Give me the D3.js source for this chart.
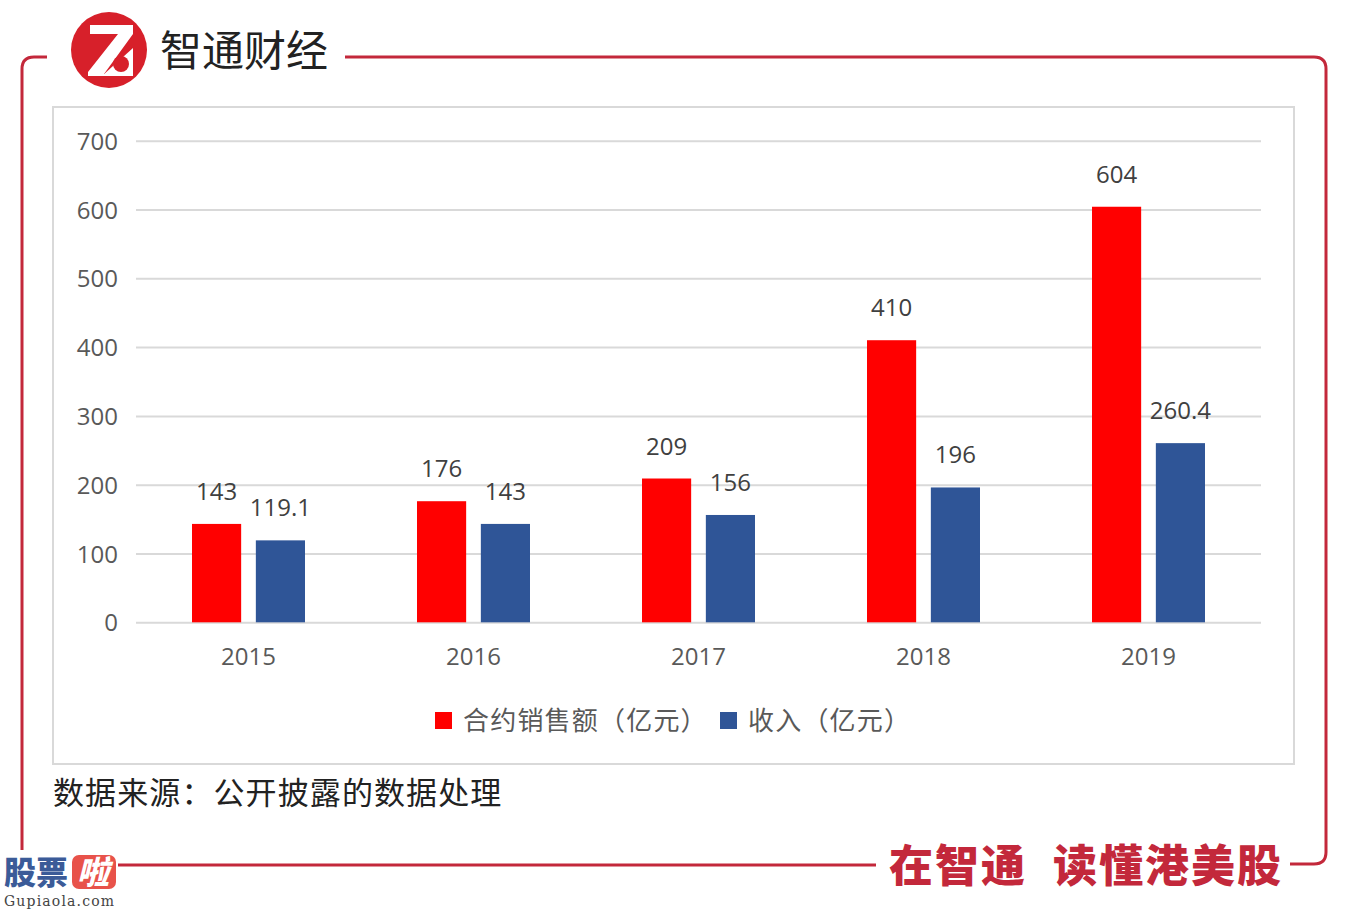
<!DOCTYPE html>
<html><head><meta charset="utf-8">
<script src="https://cdn.jsdelivr.net/npm/d3@7"></script>
<style>
html,body{margin:0;padding:0;background:#fff;}
svg{display:block;}
</style></head>
<body>
<script>
const categories = ["2015","2016","2017","2018","2019"];
const seriesNames = ["合约销售额（亿元）","收入（亿元）"];
const salesValues = [143, 176, 209, 410, 604];
const revenueValues = [119.1, 143, 156, 196, 260.4];
const yTicks = [0,100,200,300,400,500,600,700];
const colors = ["#ff0000", "#2f5597"];
const brandRed = "#c3283b";

const W = 1352, H = 912;
const svg = d3.select("body").append("svg").attr("width", W).attr("height", H);

// outer red frame
const fr = svg.append("g").attr("fill","none").attr("stroke",brandRed).attr("stroke-width",3);
fr.append("path").attr("d","M47,57 L34,57 Q22,57 22,69 L22,856");
fr.append("path").attr("d","M345,57 L1314,57 Q1326,57 1326,69 L1326,852 Q1326,864 1314,864 L1290,864");
fr.append("path").attr("d","M110,865 L876,865");

// gray inner frame
svg.append("rect").attr("x",53).attr("y",107).attr("width",1241).attr("height",657)
  .attr("fill","#fff").attr("stroke","#d9d9d9").attr("stroke-width",2);

// logo
const lg = svg.append("g");
lg.append("circle").attr("cx",109).attr("cy",50).attr("r",38).attr("fill","#d7202a");
lg.append("path").attr("fill","#fff")
  .attr("d","M90,25 L133,25 L133,34 L104,74 L133,74 L133,76 L88,76 L88,72 L118,34 L90,34 Z");
lg.append("path").attr("fill","#fff").attr("d","M103,75 L133,48 L133,75 Z");
lg.append("circle").attr("cx",121).attr("cy",64).attr("r",8).attr("fill","#d7202a");
svg.append("text").attr("x",160).attr("y",66).attr("font-family","'Noto Sans CJK SC'")
  .attr("font-size",42).attr("fill","#222").text("智通财经");

// scales
const x0 = d3.scaleBand().domain(categories).range([136,1261]);
const x1 = d3.scaleBand().domain([0,1]).range([56,169]).paddingInner(0.23);
const y = d3.scaleLinear().domain([0,700]).range([622.3,140.7]);

// y grid + labels
const yAxis = svg.append("g").attr("transform","translate(136,0)")
  .call(d3.axisLeft(y).tickValues(yTicks).tickSize(-1125).tickPadding(18).tickFormat(d3.format("d")));
yAxis.select(".domain").remove();
yAxis.selectAll(".tick line").attr("stroke","#d9d9d9").attr("stroke-width",2);
yAxis.selectAll(".tick text").attr("font-family","'Open Sans'").attr("font-size",24)
  .attr("fill","#595959").attr("dy","0.36em");

// x labels
const xAxis = svg.append("g").attr("transform","translate(0,622)")
  .call(d3.axisBottom(x0).tickSize(0).tickPadding(26));
xAxis.select(".domain").remove();
xAxis.selectAll(".tick text").attr("font-family","'Open Sans'").attr("font-size",24)
  .attr("fill","#595959");

// bars
const data = categories.map((c,i)=>({cat:c, vals:[salesValues[i], revenueValues[i]]}));
const groups = svg.append("g").selectAll("g").data(data).join("g")
  .attr("transform", d=>`translate(${x0(d.cat)},0)`);
groups.selectAll("rect").data(d=>d.vals.map((v,k)=>({v,k}))).join("rect")
  .attr("x", d=>x1(d.k)).attr("width", x1.bandwidth())
  .attr("y", d=>y(d.v)).attr("height", d=>y(0)-y(d.v))
  .attr("fill", d=>colors[d.k]);
groups.selectAll("text.lbl").data(d=>d.vals.map((v,k)=>({v,k}))).join("text")
  .attr("class","lbl")
  .attr("x", d=>x1(d.k)+x1.bandwidth()/2).attr("y", d=>y(d.v)-24)
  .attr("text-anchor","middle").attr("font-family","'Open Sans'").attr("font-size",24)
  .attr("fill","#404040").text(d=>String(d.v));

// legend
const legX = [435, 720];
const leg = svg.append("g");
seriesNames.forEach((n,k)=>{
  leg.append("rect").attr("x",legX[k]).attr("y",712).attr("width",17).attr("height",17).attr("fill",colors[k]);
  leg.append("text").attr("x",legX[k]+28).attr("y",730).attr("font-family","'Noto Sans CJK SC'")
    .attr("font-size",26).attr("letter-spacing",1.2).attr("fill","#595959").text(n);
});

// source
svg.append("text").attr("x",53).attr("y",804).attr("font-family","'Noto Sans CJK SC'")
  .attr("font-size",31).attr("letter-spacing",1.1).attr("fill","#222").text("数据来源：公开披露的数据处理");

// slogan
svg.append("text").attr("x",889).attr("y",882).attr("font-family","'Noto Sans CJK SC'")
  .attr("font-weight",900).attr("font-size",44).attr("letter-spacing",2).attr("fill",brandRed).text("在智通");
svg.append("text").attr("x",1053).attr("y",882).attr("font-family","'Noto Sans CJK SC'")
  .attr("font-weight",900).attr("font-size",44).attr("letter-spacing",2).attr("fill",brandRed).text("读懂港美股");

// watermark
const wm = svg.append("g");
wm.append("rect").attr("x",0).attr("y",850).attr("width",118).attr("height",62).attr("fill","#fff");
wm.append("text").attr("x",4).attr("y",884).attr("font-family","'Noto Sans CJK SC'")
  .attr("font-weight",900).attr("font-size",32).attr("fill","#3b5b98").text("股票");
wm.append("rect").attr("x",72).attr("y",855).attr("width",44).attr("height",34).attr("rx",7).attr("fill","#e8524a");
wm.append("text").attr("x",77).attr("y",884).attr("font-family","'Noto Sans CJK SC'")
  .attr("font-weight",900).attr("font-size",32).attr("fill","#fff").attr("font-style","italic").text("啦");
wm.append("text").attr("x",4).attr("y",906).attr("font-family","'DejaVu Serif'")
  .attr("font-size",14).attr("fill","#444").attr("textLength",110).text("Gupiaola.com");
</script>
</body></html>
